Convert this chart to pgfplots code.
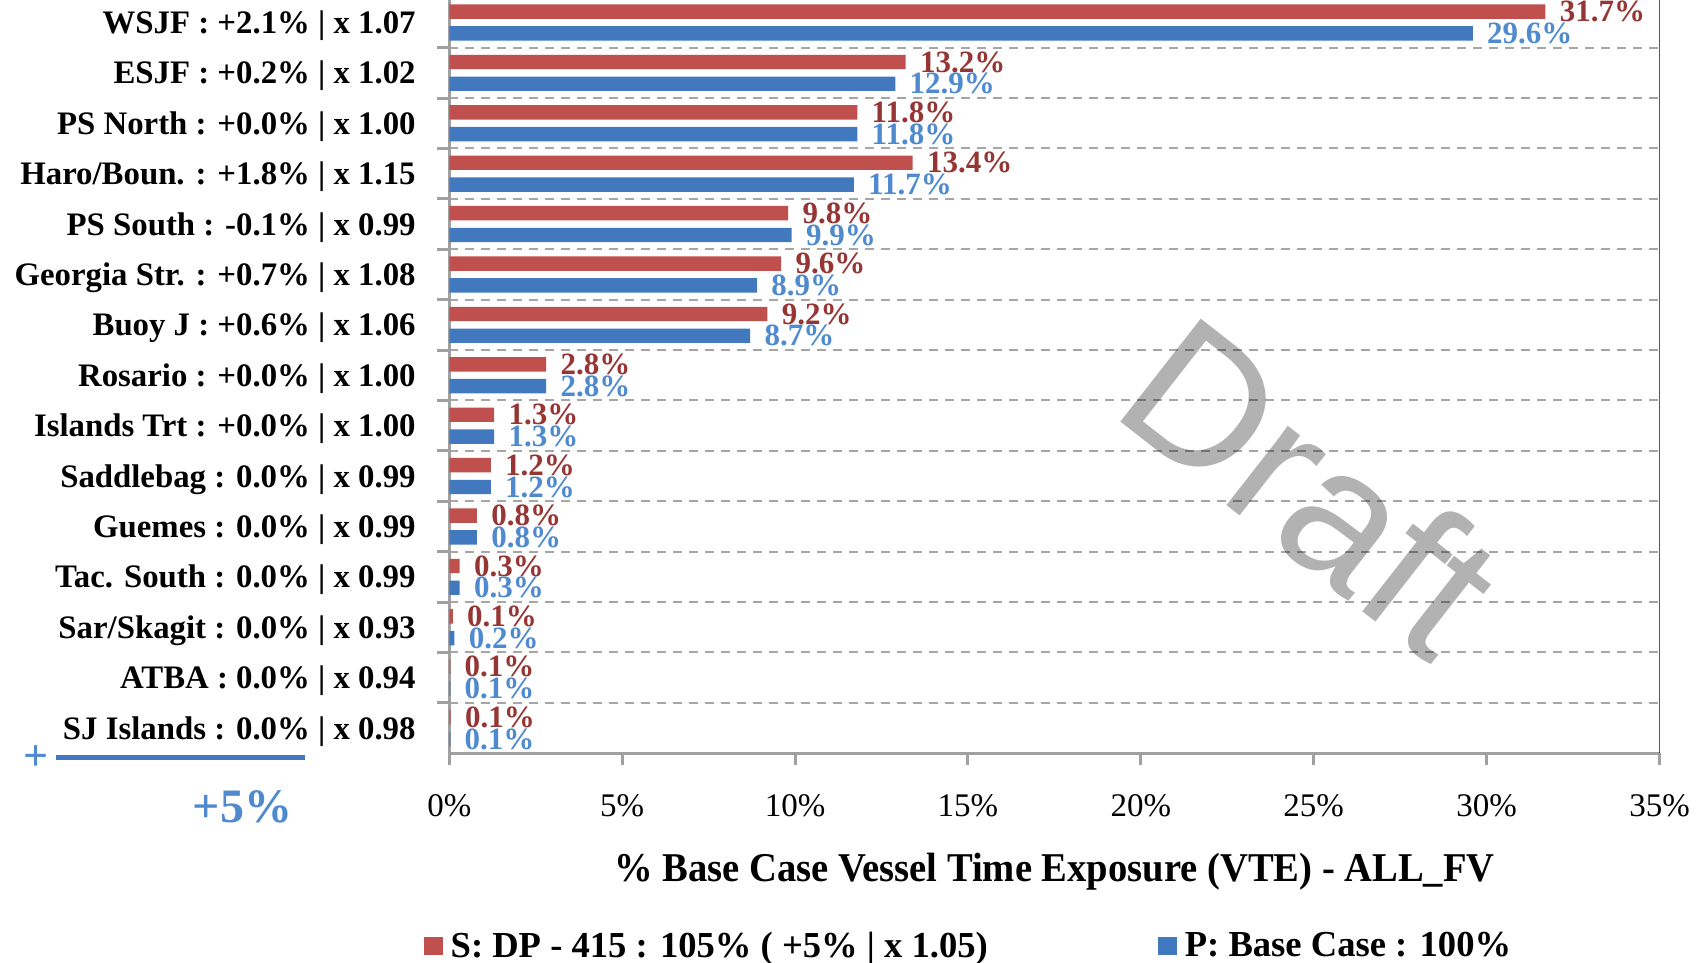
\documentclass[border=0pt]{standalone}
\usepackage{fontspec}
\setmainfont{Liberation Serif}
\newfontfamily\draftfont{Liberation Sans}
\usepackage{graphicx}
\usepackage{pgfplots}
\pgfplotsset{compat=1.18}
\usepackage{pgfplotstable}
\definecolor{barred}{HTML}{C0504D}
\definecolor{barblue}{HTML}{4279BE}
\definecolor{labred}{HTML}{963634}
\definecolor{labblue}{HTML}{4F8ACF}
\definecolor{axgray}{HTML}{A0A0A0}
\definecolor{gridgray}{HTML}{A6A6A6}

\pgfplotstableread{
y  s     p     sl       pl
14 31.7  29.6  31.7\%   29.6\%
13 13.2  12.9  13.2\%   12.9\%
12 11.8  11.8  11.8\%   11.8\%
11 13.4  11.7  13.4\%   11.7\%
10 9.8   9.9   9.8\%    9.9\%
9  9.6   8.9   9.6\%    8.9\%
8  9.2   8.7   9.2\%    8.7\%
7  2.8   2.8   2.8\%    2.8\%
6  1.3   1.3   1.3\%    1.3\%
5  1.2   1.2   1.2\%    1.2\%
4  0.8   0.8   0.8\%    0.8\%
3  0.3   0.3   0.3\%    0.3\%
2  0.1   0.15  0.1\%    0.2\%
1  0.03  0.03  0.1\%    0.1\%
0  0.04  0.03  0.1\%    0.1\%
}\vte

\begin{document}
\begin{tikzpicture}
\path[use as bounding box] (-224.65pt,-104.85pt) rectangle (627.35pt,376.65pt);
\clip (-224.65pt,-104.85pt) rectangle (627.35pt,376.65pt);
\begin{axis}[
  at={(0,0)}, anchor=south west,
  scale only axis, width=605.1pt, height=378pt,
  xbar, bar width=7.2pt,
  xmin=0, xmax=35, ymin=-0.5, ymax=14.5,
  axis lines*=left,
  axis line style={draw=axgray, line width=1.75pt},
  xtick={0,5,...,35},
  xticklabels={0\%,5\%,10\%,15\%,20\%,25\%,30\%,35\%},
  ytick={0.5,1.5,...,14.5},
  yticklabels={
    SJ Islands : 0.0\% |  x 0.98,
    ATBA : 0.0\% |  x 0.94,
    Sar/Skagit : 0.0\% |  x 0.93,
    Tac. South : 0.0\% |  x 0.99,
    Guemes : 0.0\% |  x 0.99,
    Saddlebag : 0.0\% |  x 0.99,
    Islands Trt : +0.0\% |  x 1.00,
    Rosario : +0.0\% |  x 1.00,
    Buoy J : +0.6\% |  x 1.06,
    Georgia Str. : +0.7\% |  x 1.08,
    PS South : -0.1\% |  x 0.99,
    Haro/Boun. : +1.8\% |  x 1.15,
    PS North : +0.0\% |  x 1.00,
    ESJF : +0.2\% |  x 1.02,
    WSJF : +2.1\% |  x 1.07},
  tick align=outside, major tick length=6pt,
  tick style={draw=axgray, line width=1.5pt},
  ymajorgrids,
  major grid style={draw=gridgray, line width=1pt, dash pattern=on 4.5pt off 3.5pt},
  yticklabel style={font=\fontsize{16.4}{18}\selectfont\bfseries, anchor=east, inner sep=0pt, xshift=-10.65pt, yshift=-14.2pt},
  xticklabel style={font=\fontsize{16.5}{19}\selectfont, anchor=north, inner sep=0pt, yshift=-14.3pt},
  xlabel={\scalebox{1}[1.06]{\% Base Case Vessel Time Exposure (VTE) - ALL\_FV}},
  xlabel style={at={(axis description cs:0.5,0)}, anchor=base, inner sep=0pt, yshift=-64.35pt, font=\fontsize{19.3}{22}\selectfont\bfseries},
  legend columns=2,
  legend style={at={(axis description cs:-0.0215,-0.2549)}, anchor=west, draw=none, fill=none, inner sep=0pt,
    font=\fontsize{18.3}{20}\selectfont\bfseries,
    nodes={inner sep=0pt},
    /tikz/every odd column/.append style={column sep=4pt},
    /tikz/every even column/.append style={column sep=85pt}},
  legend cell align=left,
  point meta=explicit symbolic,
  nodes near coords,
  every node near coord/.append style={anchor=west, inner sep=0pt, xshift=7pt, font=\fontsize{15.5}{17}\selectfont\bfseries},
]
\addplot[fill=barred, draw=none, bar shift=5.45pt,
  every node near coord/.append style={text=labred},
  legend image code/.code={\fill[barred] (0pt,-4.5pt) rectangle (9.5pt,4.5pt);}]
  table[x=s, y=y, meta=sl] {\vte};
\addlegendentry{S: DP - 415 : 105\% ( +5\% | x 1.05)}
\addplot[fill=barblue, draw=none, bar shift=-5.45pt,
  every node near coord/.append style={text=labblue},
  legend image code/.code={\fill[barblue] (0pt,-4.5pt) rectangle (9.5pt,4.5pt);}]
  table[x=p, y=y, meta=pl] {\vte};
\addlegendentry{P: Base Case : 100\%}
\draw[black, line width=0.75pt] (rel axis cs:1,0) -- (rel axis cs:1,1);
\end{axis}
\node[text=black, text opacity=0.3, rotate=-38, font=\draftfont\fontsize{95}{95}\selectfont, inner sep=0pt] at (431.35pt,133.65pt) {Draft};
\node[text=labblue, font=\fontsize{22}{22}\selectfont\bfseries, inner sep=0pt] at (-206.65pt,-2.35pt) {+};
\draw[barblue, line width=2.5pt] (-196.65pt,-2.35pt) -- (-72.15pt,-2.35pt);
\node[text=labblue, anchor=base, font=\fontsize{24}{24}\selectfont\bfseries, inner sep=0pt] at (-103.4pt,-34.85pt) {+5\%};
\end{tikzpicture}
\end{document}
